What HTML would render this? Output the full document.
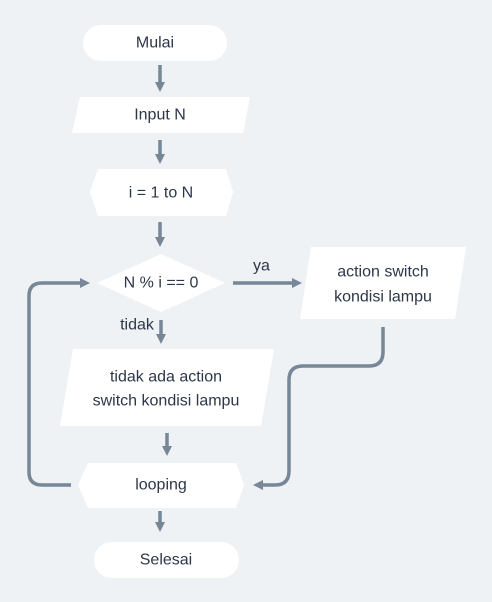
<!DOCTYPE html>
<html><head><style>
html,body{margin:0;padding:0;background:#eff2f5;}
svg{display:block}
text{font-family:"Liberation Sans",sans-serif;font-size:16px;fill:#2d3748;text-anchor:middle;dominant-baseline:central}
</style></head><body>
<svg width="492" height="602" viewBox="0 0 492 602">
<defs><marker id="a" markerWidth="10" markerHeight="10" refX="4" refY="5" orient="auto" markerUnits="userSpaceOnUse">
<path d="M0,0 L10,5 L0,10 z" fill="#778797"/></marker></defs>
<g fill="#fff">
<rect x="83" y="25" width="144" height="36" rx="18"/>
<polygon points="80,97 250,97 243,133 72,133"/>
<polygon points="98,169 226,169 233,192 226,216 98,216 90,192"/>
<polygon points="161,254 225,283 161,312 97,283"/>
<polygon points="311,247 466,247 455,319 300,319"/>
<polygon points="73,349 274,349 261,426 60,426"/>
<polygon points="88,463 236,463 244,485 236,508 88,508 78,485"/>
<rect x="94" y="542" width="145" height="36" rx="18"/>
</g>
<g stroke="#778797" stroke-width="3.5" fill="none">
<line x1="160" y1="65" x2="160" y2="86" marker-end="url(#a)"/>
<line x1="160" y1="140" x2="160" y2="158" marker-end="url(#a)"/>
<line x1="160" y1="222" x2="160" y2="241" marker-end="url(#a)"/>
<line x1="233" y1="283" x2="296" y2="283" marker-end="url(#a)"/>
<line x1="161" y1="320" x2="161" y2="338" marker-end="url(#a)"/>
<line x1="167" y1="433" x2="167" y2="450" marker-end="url(#a)"/>
<line x1="160" y1="511" x2="160" y2="526" marker-end="url(#a)"/>
<path d="M383,327 V352 Q383,366 369,366 H303 Q289,366 289,380 V471 Q289,485 275,485 H259" marker-end="url(#a)"/>
<path d="M71,485 H42 Q29,485 29,472 V296 Q29,283 42,283 H84" marker-end="url(#a)"/>
</g>
<text x="155" y="43">Mulai</text>
<text x="160" y="115">Input N</text>
<text x="161" y="193">i = 1 to N</text>
<text x="161" y="283">N % i == 0</text>
<text x="253" y="266" style="text-anchor:start">ya</text>
<text x="383" y="272">action switch</text>
<text x="383" y="297">kondisi lampu</text>
<text x="137" y="325">tidak</text>
<text x="166" y="377">tidak ada action</text>
<text x="166" y="401">switch kondisi lampu</text>
<text x="161" y="485">looping</text>
<text x="166" y="560">Selesai</text>
</svg>
</body></html>
